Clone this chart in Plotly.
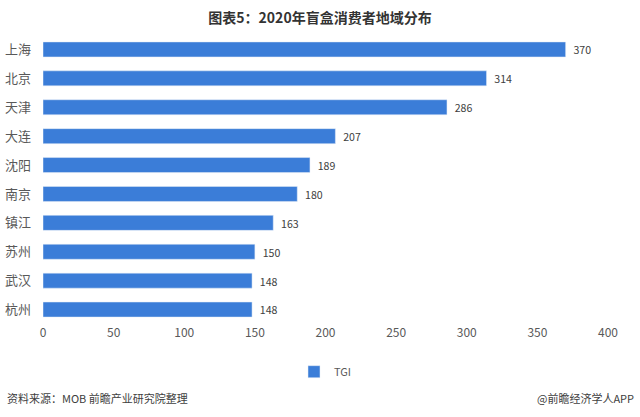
import plotly.graph_objects as go

cities = ['上海', '北京', '天津', '大连', '沈阳', '南京', '镇江', '苏州', '武汉', '杭州']
tgi = [370, 314, 286, 207, 189, 180, 163, 150, 148, 148]
x_ticks = [0, 50, 100, 150, 200, 250, 300, 350, 400]

font_family = 'Noto Sans CJK SC, Microsoft YaHei, sans-serif'

fig = go.Figure()

fig.add_trace(
    go.Bar(
        y=cities,
        x=tgi,
        orientation='h',
        name='TGI',
        marker=dict(color='#3b7dd8'),
        text=tgi,
        texttemplate='  %{text}',
        textposition='outside',
        textfont=dict(size=12, color='#404040'),
        cliponaxis=False,
        showlegend=True,
    )
)

fig.update_layout(
    width=640,
    height=417,
    paper_bgcolor='white',
    plot_bgcolor='white',
    font=dict(family=font_family, size=12, color='#595959'),
    margin=dict(l=43, r=32, t=35, b=93, autoexpand=False),
    bargap=0.48,
    title=dict(
        text='<b>图表5：2020年盲盒消费者地域分布</b>',
        x=0.5,
        xanchor='center',
        y=0.957,
        yanchor='middle',
        font=dict(size=14, color='#333333'),
    ),
    xaxis=dict(
        range=[0, 400],
        tickvals=x_ticks,
        showgrid=False,
        zeroline=False,
        showline=False,
        ticks='',
        automargin=False,
        tickfont=dict(size=12, color='#595959'),
    ),
    yaxis=dict(
        autorange='reversed',
        showgrid=False,
        showline=False,
        ticks='',
        automargin=False,
        ticklabelstandoff=11,
        tickfont=dict(size=13, color='#595959'),
    ),
    legend=dict(
        orientation='h',
        x=0.5,
        xanchor='center',
        y=-0.165,
        yanchor='middle',
        font=dict(size=11, color='#595959'),
        itemwidth=30,
    ),
    annotations=[
        dict(
            text='资料来源：MOB 前瞻产业研究院整理',
            xref='paper', yref='paper',
            x=-0.067, y=-0.255,
            xanchor='left', yanchor='middle',
            showarrow=False,
            font=dict(size=11, color='#404040'),
        ),
        dict(
            text='@前瞻经济学人APP',
            xref='paper', yref='paper',
            x=1.05, y=-0.255,
            xanchor='right', yanchor='middle',
            showarrow=False,
            font=dict(size=11, color='#404040'),
        ),
    ],
)

# page body has a default 8px margin; drop it so the figure sits at 0,0
fig.write_html(
    "out.html",
    config={'displayModeBar': False},
    post_script="document.body.style.margin='0';",
)
